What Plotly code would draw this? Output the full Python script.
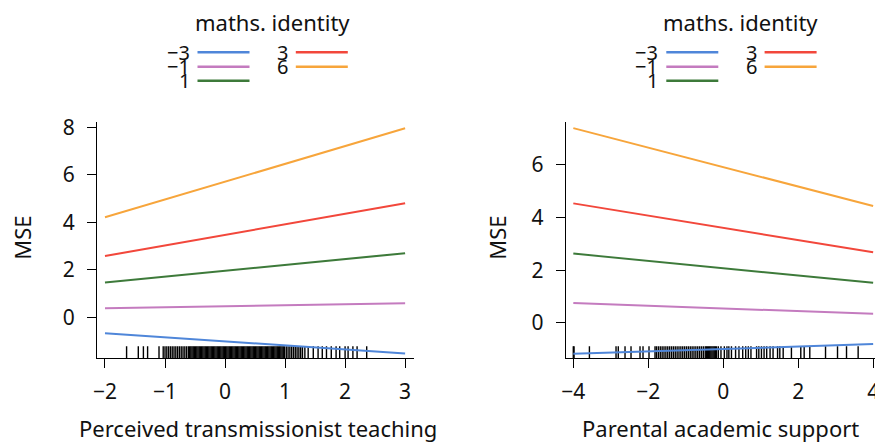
import plotly.graph_objects as go

W, H = 875, 443
FONT = "Noto Sans"

# ---------------------------------------------
# data
# ---------------------------------------------
levels = ["\u22123", "\u22121", "1", "3", "6"]
colors = ["#4f86d9", "#c47bbf", "#3d7a3a", "#f2473b", "#f7a53b"]

# panel 1: Perceived transmissionist teaching
teach_x = [-2, 3]
teach_mse = [
    [-0.67, -1.52],   # -3
    [0.38, 0.59],     # -1
    [1.47, 2.70],     # 1
    [2.58, 4.80],     # 3
    [4.21, 7.96],     # 6
]
teach_rug = [
    -1.64, -1.445, -1.36, -1.29, -1.10, -1.03, -1.0, -0.97, -0.94, -0.91,
    -0.88, -0.85, -0.82, -0.79, -0.76, -0.73, -0.70, -0.67, -0.64, -0.61,
    -0.59, -0.57, -0.55, -0.53, -0.51, -0.49, -0.47, -0.45, -0.43, -0.41,
    -0.39, -0.37, -0.35, -0.33, -0.31, -0.29, -0.27, -0.25, -0.23, -0.21,
    -0.19, -0.17, -0.15, -0.13, -0.11, -0.09, -0.07, -0.05, -0.03, -0.01,
    0.01, 0.03, 0.05, 0.07, 0.09, 0.11, 0.13, 0.15, 0.17, 0.19,
    0.21, 0.23, 0.25, 0.27, 0.29, 0.31, 0.33, 0.35, 0.37, 0.39,
    0.41, 0.43, 0.45, 0.47, 0.49, 0.51, 0.53, 0.55, 0.57, 0.59,
    0.61, 0.63, 0.65, 0.67, 0.69, 0.71, 0.73, 0.75, 0.77, 0.79,
    0.81, 0.83, 0.85, 0.87, 0.89, 0.91, 0.93, 0.95, 0.97, 0.99,
    1.02, 1.05, 1.08, 1.11, 1.14, 1.17, 1.20, 1.23, 1.26, 1.29,
    1.33, 1.385, 1.47, 1.55, 1.62, 1.69, 1.77, 1.85, 1.91, 2.0,
    2.05, 2.13, 2.20, 2.36,
]

# panel 2: Parental academic support
support_x = [-4, 4]
support_mse = [
    [-1.18, -0.81],
    [0.75, 0.34],
    [2.63, 1.52],
    [4.54, 2.68],
    [7.40, 4.44],
]
support_rug = [
    -4.0, -3.98, -3.57, -2.86, -2.80, -2.62, -2.46, -2.22, -2.14, -1.98,
    -1.82, -1.78, -1.73, -1.68, -1.63, -1.58, -1.53, -1.48, -1.43, -1.38,
    -1.33, -1.28, -1.23, -1.18, -1.13, -1.08, -1.03, -0.98, -0.93, -0.88,
    -0.83, -0.78, -0.73, -0.68, -0.63, -0.58, -0.53, -0.48, -0.45, -0.42,
    -0.39, -0.36, -0.33, -0.30, -0.27, -0.24, -0.21, -0.18, -0.13, -0.06,
    0.03, 0.10, 0.15, 0.22, 0.33, 0.42, 0.52, 0.60, 0.67, 0.74, 0.89, 0.95,
    1.02, 1.09, 1.16, 1.25, 1.33, 1.45, 1.51, 1.60, 1.82, 2.07,
    2.16, 2.31, 2.73, 3.05, 3.29, 3.60,
]

# ---------------------------------------------
# layout geometry (pixels)
# ---------------------------------------------
TOP, BOTTOM = 121.7, 358.3
teach_xrange = [-2.133, 3.148]
teach_yrange = [-1.726, 8.236]
support_xrange = [-4.203, 4.05]
support_yrange = [-1.35, 7.645]
RUG_LEN = 10


def px(p):
    return p / W


def py(p):
    return 1 - p / H


def rug_y(yr):
    per_px = (yr[1] - yr[0]) / (BOTTOM - TOP)
    return yr[0] + per_px * RUG_LEN / 2


fig = go.Figure()

panels = [
    ("x", "y", teach_x, teach_mse, teach_rug, teach_yrange),
    ("x2", "y2", support_x, support_mse, support_rug, support_yrange),
]
for xa, ya, xs, mse, rug, yr in panels:
    fig.add_trace(go.Scatter(
        x=rug, y=[rug_y(yr)] * len(rug), xaxis=xa, yaxis=ya,
        mode="markers", showlegend=False, hoverinfo="skip",
        marker=dict(symbol="line-ns-open", size=RUG_LEN, color="black",
                    line=dict(color="black", width=1.4)),
    ))
    for lvl, col, ys in zip(levels, colors, mse):
        fig.add_trace(go.Scatter(
            x=xs, y=ys, xaxis=xa, yaxis=ya, mode="lines", name=lvl,
            showlegend=False, line=dict(color=col, width=2),
        ))

axis_style = dict(
    showline=True, linecolor="black", linewidth=1, ticks="outside",
    ticklen=9, tickwidth=1, tickcolor="black", showgrid=False,
    zeroline=False, automargin=False, ticklabeloverflow="allow",
    tickfont=dict(family=FONT, size=21, color="#111"),
)

fig.update_layout(
    width=W, height=H, showlegend=False,
    margin=dict(l=0, r=0, t=0, b=0, pad=0, autoexpand=False),
    plot_bgcolor="white", paper_bgcolor="white",
    xaxis=dict(axis_style, domain=[px(97), px(414)], range=teach_xrange,
               tickvals=[-2, -1, 0, 1, 2, 3], anchor="y", ticklabelstandoff=5),
    yaxis=dict(axis_style, domain=[py(BOTTOM), py(TOP)], range=teach_yrange,
               tickvals=[0, 2, 4, 6, 8], anchor="x", ticklabelstandoff=8),
    xaxis2=dict(axis_style, domain=[px(565.7), 1], range=support_xrange,
                tickvals=[-4, -2, 0, 2, 4], anchor="y2", ticklabelstandoff=5),
    yaxis2=dict(axis_style, domain=[py(BOTTOM), py(TOP)], range=support_yrange,
                tickvals=[0, 2, 4, 6], anchor="x2", ticklabelstandoff=8),
)

# axis titles
titles = [
    ("Perceived transmissionist teaching", 257.5, 428, 0),
    ("Parental academic support", 720, 428, 0),
    ("MSE", 21.7, 238, -90),
    ("MSE", 496.7, 238, -90),
]
for txt, x, y, ang in titles:
    fig.add_annotation(text=txt, x=px(x), y=py(y), xref="paper", yref="paper",
                       showarrow=False, textangle=ang, xanchor="center",
                       yanchor="middle", font=dict(family=FONT, size=22, color="#111"))

# legends (labels left of line keys, two columns)
rows = [52.3, 66.7, 80.7]
slots = [(0, 0), (0, 1), (0, 2), (1, 0), (1, 1)]
for cx in [272, 740.8]:
    fig.add_annotation(text="maths. identity", x=px(cx), y=py(22), xref="paper",
                       yref="paper", showarrow=False, xanchor="center",
                       yanchor="middle", font=dict(family=FONT, size=22, color="#111"))
    for lvl, col, (c, r) in zip(levels, colors, slots):
        off = -80.5 if c == 0 else 17.8
        fig.add_annotation(text=lvl, x=px(cx + off), y=py(rows[r]), xref="paper",
                           yref="paper", showarrow=False, xanchor="right",
                           yanchor="middle",
                           font=dict(family=FONT, size=20, color="#111"))
        fig.add_shape(type="line", xref="paper", yref="paper",
                      x0=px(cx + off + 6), x1=px(cx + off + 58),
                      y0=py(rows[r]), y1=py(rows[r]),
                      line=dict(color=col, width=2.5))

# page body has an 8px default margin; drop it so the figure sits at (0, 0)
fig.write_html("out.html", config={"displayModeBar": False},
               post_script="document.body.style.margin='0';")
